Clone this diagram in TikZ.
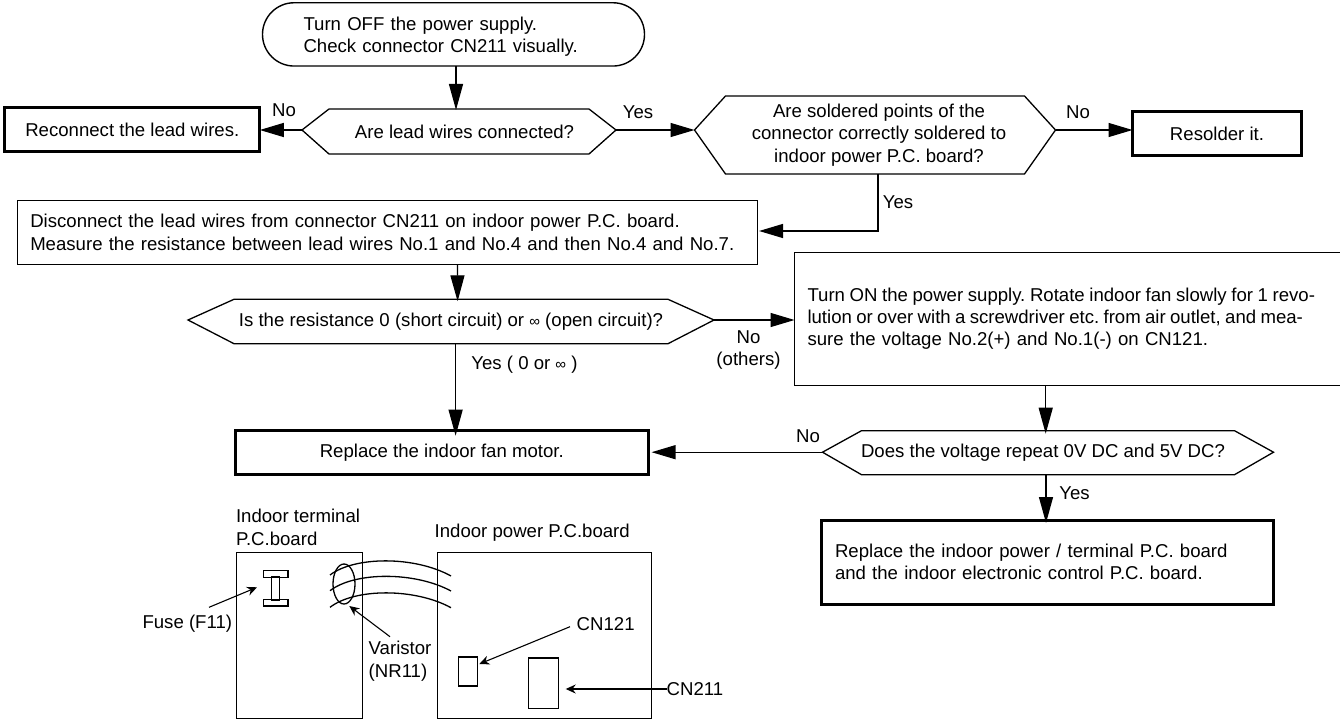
\documentclass[tikz,border=0pt]{standalone}
\usepackage{fontspec}
\setmainfont{Liberation Sans}
\usetikzlibrary{arrows.meta,positioning,shapes.geometric}
\tikzset{
  x=1pt,y=-1pt,
  every node/.style={font=\fontsize{18.6}{22.3}\selectfont\frenchspacing,inner sep=0pt,outer sep=0pt},
  flowbox/.style={draw,line width=1.4pt,rectangle},
  strongbox/.style={draw,line width=3pt,rectangle},
  hexbody/.style={rectangle,align=center},
  leftbox/.style={rectangle,align=left},
  lab/.style={align=center},
  labl/.style={anchor=west,align=left},
  flow/.style={line width=1.3pt,-{Triangle[length=26pt,width=14pt]}},
  flowh/.style={line width=1.3pt,-{Triangle[length=24pt,width=14pt]}},
  wire/.style={line width=1.3pt},
  pointer/.style={line width=1.1pt,-{Stealth[length=10pt,width=9pt]}},
  part/.style={draw,line width=1.5pt,rectangle},
}
% #1 node, #2 corner inset, #3 how far the two tips sit above the node centre
\newcommand{\hexout}[3]{%
  \coordinate (#1W) at ([yshift=#3]#1.west);
  \coordinate (#1E) at ([yshift=#3]#1.east);
  \draw[line width=1.3pt] (#1W) -- ([xshift=#2]#1.north west) -- ([xshift=-#2]#1.north east) -- (#1E) -- ([xshift=-#2]#1.south east) -- ([xshift=#2]#1.south west) -- cycle;}
\newcommand{\infsym}{{\fontsize{15}{15}\selectfont ∞}}
\begin{document}
\begin{tikzpicture}
\useasboundingbox (0,0) rectangle (1340,719);
% flow nodes
\node[flowbox,rounded corners=31.6pt,minimum width=382pt,minimum height=63.3pt,text width=300pt,align=left,inner xsep=41pt] (start) at (453.5,34.4) {\rule{0pt}{17.5pt}Turn OFF the power supply.\\Check connector CN211 visually.};
\node[hexbody,minimum width=314pt,minimum height=45pt] (h1) at (459,131.5) {\hspace*{11pt}Are lead wires connected?};
\hexout{h1}{27}{1.5pt}
\node[strongbox,minimum width=255pt,minimum height=44pt] (reconnect) at (132.3,130) {Reconnect the lead wires.};
\node[hexbody,minimum width=361pt,minimum height=78pt] (h2) at (875,135) {\hspace*{8pt}Are soldered points of the\\\hspace*{8pt}connector correctly soldered to\\\hspace*{8pt}indoor power P.C. board?};
\hexout{h2}{31}{5pt}
\node[strongbox,minimum width=169pt,minimum height=43.5pt] (resolder) at (1217,133.5) {Resolder it.};
\node[flowbox,minimum width=740.3pt,minimum height=63.5pt,text width=714.3pt,inner xsep=13pt,leftbox] (disc) at (387.4,232.5) {Disconnect the lead wires from connector CN211 on indoor power P.C. board.\\Measure the resistance between lead wires No.1 and No.4 and then No.4 and No.7.};
\node[hexbody,minimum width=526pt,minimum height=44.4pt] (h3) at (451,321.5) {Is the resistance 0 (short circuit) or \infsym\ (open circuit)?};
\hexout{h3}{46}{1.5pt}
\node[flowbox,minimum width=547pt,minimum height=133pt,text width=521pt,inner xsep=13pt,leftbox] (turnon) at (1068,318.8) {\mbox{\spaceskip=4.6pt Turn ON the power supply. Rotate indoor fan slowly for 1 revo-}\\\mbox{\spaceskip=4.35pt lution or over with a screwdriver etc. from air outlet, and mea-}\\sure the voltage No.2(+) and No.1(-) on CN121.};
\node[strongbox,minimum width=413.5pt,minimum height=43.6pt] (fan) at (441.8,452.5) {Replace the indoor fan motor.};
\node[hexbody,minimum width=451pt,minimum height=44pt] (h4) at (1048,452.7) {Does the voltage repeat 0V DC and 5V DC?\hspace*{10pt}};
\hexout{h4}{39}{0.5pt}
\node[strongbox,minimum width=452pt,minimum height=84pt,text width=424pt,inner xsep=14pt,leftbox] (board) at (1047,562) {Replace the indoor power / terminal P.C. board\\and the indoor electronic control P.C. board.};
% connector labels
\node[lab] (lno1) at (284,110) {No};
\node[lab] (lyes1) at (638,112) {Yes};
\node[lab] (lno2) at (1078,112) {No};
\node[lab] (lyes2) at (898,201.7) {Yes};
\node[lab] (lno3) at (748.5,350) {No\\(others)};
\node[labl] (lyes3) at (471.4,365) {Yes ( 0 or \infsym\ )};
\node[lab] (lno4) at (808,436) {No};
\node[lab] (lyes4) at (1074.5,492.7) {Yes};
% connectors
\draw[flow] ([xshift=2.5pt]start.south) -- ([xshift=-3pt,yshift=-1pt]h1.north);
\draw[flowh] (h1W) -- (reconnect.east |- h1W);
\draw[flowh] (h1E) -- (h2W);
\draw[flowh] (h2E) -- (resolder.west |- h2E);
\draw[flowh] ([xshift=3pt]h2.south) |- ([xshift=1.5pt,yshift=1.5pt]disc.east);
\draw[flow] ([xshift=70pt]disc.south) -- ([xshift=6.6pt,yshift=-2pt]h3.north);
\draw[flowh] (h3E) -- (turnon.west |- h3E);
\draw[flow] ([xshift=4.6pt]h3.south) -- ([xshift=13.8pt,yshift=-5pt]fan.north);
\draw[flow] ([xshift=-22.3pt]turnon.south) -- ([xshift=-2.3pt,yshift=-3pt]h4.north);
\draw[flowh] (h4W) -- ([xshift=3pt]fan.east |- h4W);
\draw[flow] ([xshift=-2pt]h4.south) -- ([xshift=-1pt,yshift=-3pt]board.north);
% boards
\node[part,minimum width=125.6pt,minimum height=165.6pt] (tboard) at (299.5,635.5) {};
\node[part,minimum width=214pt,minimum height=166pt] (pboard) at (544.3,635.3) {};
\node[labl] (ltboard) at (236,527.4) {Indoor terminal\\P.C.board};
\node[labl] (lpboard) at (434.7,532.3) {Indoor power P.C.board};
% fuse
\node[part,minimum width=8pt,minimum height=23pt] (stem) at (275.3,588.5) {};
\node[part,minimum width=24.7pt,minimum height=6.6pt] (ftop) at (275.6,574) {};
\node[part,minimum width=24.7pt,minimum height=6.3pt] (fbot) at (275.6,602.8) {};
% wires
\coordinate (wa1) at (330,575); \coordinate (wb1) at (451,576);
\coordinate (wa2) at (330,590.7); \coordinate (wb2) at (451,591);
\coordinate (wa3) at (330,607.3); \coordinate (wb3) at (451,607.7);
\draw[wire] (wa1) .. controls (355,556) and (415,556) .. (wb1);
\draw[wire] (wa2) .. controls (355,571.5) and (415,571.5) .. (wb2);
\draw[wire] (wa3) .. controls (355,588) and (415,588) .. (wb3);
\node[draw,line width=1.3pt,ellipse,minimum width=22pt,minimum height=40pt] (varistor) at (344,584) {};
% labels and pointers
\node[lab] (lfuse) at (187.3,623.3) {Fuse (F11)};
\coordinate (pfuse) at (209,607.3);
\coordinate (tfuse) at (257,587.3);
\draw[pointer] (pfuse) -- (tfuse);
\node[labl] (lvar) at (368.7,661.3) {Varistor\\(NR11)};
\coordinate (pvar) at (390,636.7);
\coordinate (tvar) at (349.3,606);
\draw[pointer] (pvar) -- (tvar);
\node[part,minimum width=18.6pt,minimum height=29pt] (cn121) at (468,671.5) {};
\node[part,minimum width=30pt,minimum height=50.3pt] (cn211) at (543.3,683.2) {};
\node[labl] (lcn121) at (576.7,624) {CN121};
\node[labl] (lcn211) at (666.7,689) {CN211};
\coordinate (tcn121) at (479.3,664);
\coordinate (pcn121) at (570,626.7);
\draw[pointer] (pcn121) -- (tcn121);
\coordinate (tcn211) at (565.7,689);
\draw[pointer] (lcn211.west) -- (tcn211);
\end{tikzpicture}
\end{document}
